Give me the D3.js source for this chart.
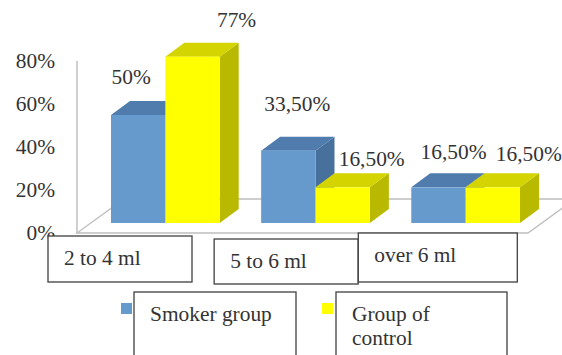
<!DOCTYPE html>
<html>
<head>
<meta charset="utf-8">
<script src="https://cdn.jsdelivr.net/npm/d3@7"></script>
<style>
  html, body { margin: 0; padding: 0; background: #fff; }
  svg { display: block; }
</style>
</head>
<body>
<svg id="chart" width="562" height="355"></svg>
<script>
// ---- data ----
const categories = ["2 to 4 ml", "5 to 6 ml", "over 6 ml"];
const seriesNames = ["Smoker group", "Group of control"];
const smokerValues = [50, 33.5, 16.5];
const controlValues = [77, 16.5, 16.5];
const smokerLabels = ["50%", "33,50%", "16,50%"];
const controlLabels = ["77%", "16,50%", "16,50%"];
const yTicks = [0, 20, 40, 60, 80];
const yTickLabels = ["0%", "20%", "40%", "60%", "80%"];

// ---- layout ----
const W = 562, H = 355;
const FONT = "'Liberation Serif', 'Times New Roman', Tinos, 'DejaVu Serif', 'Noto Serif', serif";
const FS = 20, SX = 1.07;                // font size, horizontal stretch
const depth = { dx: 19, dy: 14 };         // bar depth
const floorDepth = { dx: 47, dy: 34 };
const frame = { left: 77, right: 528 };
const colors = {
  blue:   { front: "#6699CC", top: "#4F7CAC", side: "#48709C" },
  yellow: { front: "#FFFF00", top: "#D4D400", side: "#B9B900" }
};
const seriesColors = [colors.blue, colors.yellow];
// label offsets relative to front-top centre of each bar [dx, dy]
const labelOffsets = [
  [[-7, -38], [44, -36]],
  [[9, -46], [29, -28]],
  [[15, -35], [36, -33]]
];
// category box offsets relative to band start
const catBoxes = [
  { dx: -63, y: 236, w: 144, h: 46 },
  { dx: -47, y: 239, w: 144, h: 45 },
  { dx: -53, y: 233, w: 159, h: 49 }
];

const svg = d3.select("#chart");

const x = d3.scaleBand().domain(categories).range([111, 520]).paddingInner(0.276).paddingOuter(0);
const xs = d3.scaleBand().domain(seriesNames).range([0, x.bandwidth()]);
const y = d3.scaleLinear().domain([0, 80]).range([223, 223 - 80 * 2.16]);
const yAxisScale = d3.scaleLinear().domain([0, 80]).range([233, 61]);

function stretchedText(sel, tx, ty, anchor) {
  sel.attr("transform", `translate(${tx},${ty}) scale(${SX},1)`)
     .attr("text-anchor", anchor || "start")
     .attr("dominant-baseline", "central")
     .attr("font-family", FONT)
     .attr("fill", "#333")
     .style("font-family", FONT)
     .style("font-size", FS + "px");
  return sel;
}

// ---- floor & wall lines ----
const y0f = yAxisScale(0);
svg.append("polygon")
  .attr("points", [
    [frame.left, y0f],
    [frame.left + floorDepth.dx, y0f - floorDepth.dy],
    [frame.right + floorDepth.dx, y0f - floorDepth.dy],
    [frame.right, y0f]
  ].map(p => p.join(",")).join(" "))
  .attr("fill", "#fff").attr("stroke", "#BFBFBF").attr("stroke-width", 1.3);
svg.append("line")
  .attr("x1", frame.left).attr("x2", frame.left)
  .attr("y1", yAxisScale(80)).attr("y2", y0f)
  .attr("stroke", "#BFBFBF").attr("stroke-width", 1.5);

// ---- y tick labels ----
yTicks.forEach((t, i) => {
  svg.append("text").text(yTickLabels[i])
    .call(s => stretchedText(s, 55, yAxisScale(t), "end"));
});

// ---- bars ----
const seriesValues = [smokerValues, controlValues];
const seriesLabels = [smokerLabels, controlLabels];
categories.forEach((cat, ci) => {
  seriesNames.forEach((sn, si) => {
    const v = seriesValues[si][ci];
    const c = seriesColors[si];
    const bx = x(cat) + xs(sn), bw = xs.bandwidth();
    const yt = y(v), yb = y(0);
    const g = svg.append("g");
    g.append("polygon")
      .attr("points", [[bx + bw, yt], [bx + bw + depth.dx, yt - depth.dy], [bx + bw + depth.dx, yb - depth.dy], [bx + bw, yb]].map(p => p.join(",")).join(" "))
      .attr("fill", c.side);
    g.append("polygon")
      .attr("points", [[bx, yt], [bx + depth.dx, yt - depth.dy], [bx + bw + depth.dx, yt - depth.dy], [bx + bw, yt]].map(p => p.join(",")).join(" "))
      .attr("fill", c.top);
    g.append("rect")
      .attr("x", bx).attr("y", yt).attr("width", bw).attr("height", yb - yt)
      .attr("fill", c.front);
  });
});

// ---- data labels ----
categories.forEach((cat, ci) => {
  seriesNames.forEach((sn, si) => {
    const v = seriesValues[si][ci];
    const cx = x(cat) + xs(sn) + xs.bandwidth() / 2;
    const off = labelOffsets[ci][si];
    svg.append("text").text(seriesLabels[si][ci])
      .call(s => stretchedText(s, cx + off[0], y(v) + off[1], "middle"));
  });
});

// ---- category boxes ----
categories.forEach((cat, ci) => {
  const b = catBoxes[ci];
  const bx = x(cat) + b.dx;
  svg.append("rect")
    .attr("x", bx).attr("y", b.y).attr("width", b.w).attr("height", b.h)
    .attr("fill", "#fff").attr("stroke", "#404040").attr("stroke-width", 1.3);
  svg.append("text").text(cat)
    .call(s => stretchedText(s, bx + 16, b.y + 22, "start"));
});

// ---- legend ----
const legendItems = [
  { sw: 121, box: { x: 134, w: 162 }, lines: [seriesNames[0]] },
  { sw: 322, box: { x: 336, w: 171 }, lines: ["Group of", "control"] }
];
legendItems.forEach((it, i) => {
  svg.append("rect").attr("x", it.sw).attr("y", 303).attr("width", 11).attr("height", 11)
    .attr("fill", seriesColors[i].front);
  svg.append("rect").attr("x", it.box.x).attr("y", 292).attr("width", it.box.w).attr("height", 80)
    .attr("fill", "#fff").attr("stroke", "#404040").attr("stroke-width", 1.3);
  it.lines.forEach((ln, li) => {
    svg.append("text").text(ln)
      .call(s => stretchedText(s, it.box.x + 16, 314 + li * 24, "start"));
  });
});
</script>
</body>
</html>
